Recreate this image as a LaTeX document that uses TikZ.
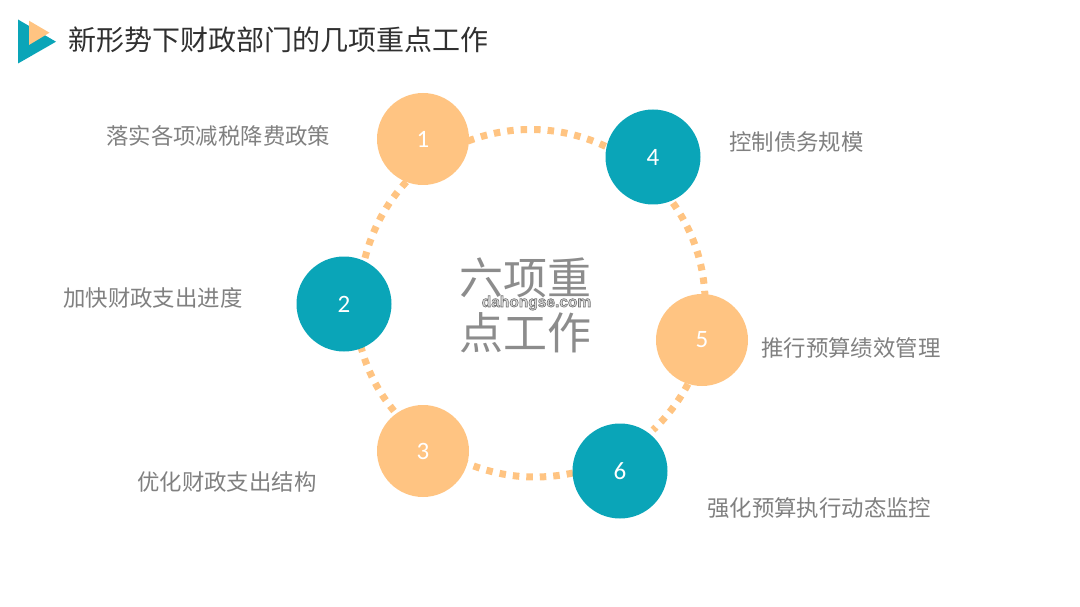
\documentclass[tikz,border=0pt]{standalone}
\usepackage{fontspec}
\setmainfont{Noto Sans CJK SC}
\newfontfamily\numfont{Carlito}
\newfontfamily\wmfont{Liberation Sans}
\definecolor{teal1}{HTML}{0AA5B8}
\definecolor{peach}{HTML}{FFC482}
\definecolor{labelgray}{HTML}{808080}
\definecolor{titlegray}{HTML}{303030}
\definecolor{bigray}{HTML}{8C8C8C}
\tikzset{
  numdot/.style={circle,inner sep=0pt,text=white,font=\numfont\fontsize{25}{25}\selectfont},
  orange dot/.style={numdot,fill=peach,minimum size=92pt},
  teal dot/.style={numdot,fill=teal1,minimum size=95pt},
  lbl/.style={inner sep=0pt,text=labelgray,font=\fontsize{22.4}{24}\selectfont},
  ring/.style={draw=peach,line width=7pt,dash pattern=on 6.5pt off 7pt},
}
\begin{document}
\begin{tikzpicture}[x=1pt,y=-1pt]
\useasboundingbox (0,0) rectangle (1080,607);
\fill[teal1] (18,19.5) -- (56,41.7) -- (18,63.5) -- cycle;
\fill[peach] (29,20.7) -- (49.5,32.7) -- (29,45) -- cycle;
\node[inner sep=0pt,anchor=west,text=titlegray,font=\fontsize{28}{30}\selectfont] (title) at (68,40) {新形势下财政部门的几项重点工作};
\coordinate (p1a) at (468,141);\coordinate (p4a) at (607,147);
\coordinate (p4b) at (673,203);\coordinate (p5a) at (705,296);
\coordinate (p5b) at (688,384);\coordinate (p6a) at (653,430);
\coordinate (p6b) at (573,473);\coordinate (p3a) at (466,463);
\coordinate (p3b) at (394,411);\coordinate (p2a) at (361,347);
\coordinate (p2b) at (365,258);\coordinate (p1b) at (407,181);
\draw[ring] (p1a) to[bend left=23,looseness=.9] (p4a);
\draw[ring] (p4b) to[bend left=16,looseness=.9] (p5a);
\draw[ring] (p5b) to[bend left=9,looseness=.9] (p6a);
\draw[ring] (p6b) to[bend left=17,looseness=.9] (p3a);
\draw[ring] (p3b) to[bend left=12,looseness=.9] (p2a);
\draw[ring] (p2b) to[bend left=14,looseness=.9] (p1b);
\node[orange dot] (n1) at (423,139) {1};
\node[teal dot] (n4) at (653,157) {4};
\node[orange dot] (n5) at (702,340) {5};
\node[teal dot] (n6) at (620,471) {6};
\node[orange dot] (n3) at (423,451) {3};
\node[teal dot] (n2) at (344,304) {2};
\node[lbl,anchor=west] (l1) at (106,136) {落实各项减税降费政策};
\node[lbl,anchor=west] (l2) at (63,298) {加快财政支出进度};
\node[lbl,anchor=west] (l3) at (137,482) {优化财政支出结构};
\node[lbl,anchor=west] (l4) at (729,142) {控制债务规模};
\node[lbl,anchor=west] (l5) at (761,348) {推行预算绩效管理};
\node[lbl,anchor=west] (l6) at (707,508) {强化预算执行动态监控};
\node[inner sep=0pt,text=bigray,font=\fontsize{44}{55}\selectfont,align=center] (center) at (525,305) {六项重\\点工作};
\node[inner sep=0pt,text=gray,font=\wmfont\bfseries\fontsize{15.5}{16}\selectfont] (wm) at (536.5,303) {\special{pdf:code 2 Tr 0.6 w 0.45 G 0.85 g}dahongse.com\special{pdf:code 0 Tr}};
\end{tikzpicture}
\end{document}
